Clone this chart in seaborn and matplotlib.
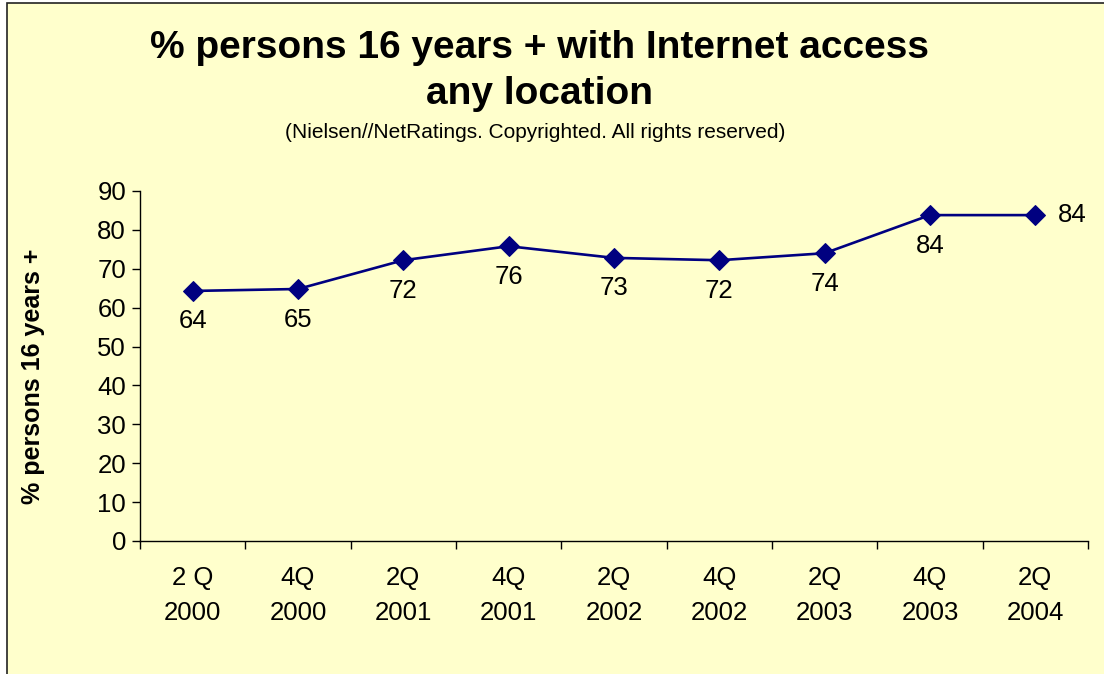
import numpy as np
import pandas as pd
import matplotlib
matplotlib.use("Agg")
import matplotlib.pyplot as plt
from matplotlib.patches import Rectangle
from matplotlib.ticker import FixedLocator
import seaborn as sns

quarters = ["2 Q\n2000", "4Q\n2000", "2Q\n2001", "4Q\n2001", "2Q\n2002",
            "4Q\n2002", "2Q\n2003", "4Q\n2003", "2Q\n2004"]
pct_online = [64.3, 64.8, 72.2, 75.8, 72.8, 72.2, 74.0, 83.8, 83.8]
y_ticks = [0, 10, 20, 30, 40, 50, 60, 70, 80, 90]

bg = "#FFFFCC"
navy = "#000080"

sns.set_style("white")
plt.rcParams["font.family"] = ["Liberation Sans", "DejaVu Sans"]
plt.rcParams["text.color"] = "black"
plt.rcParams["axes.labelcolor"] = "black"
plt.rcParams["xtick.color"] = "black"
plt.rcParams["ytick.color"] = "black"

df = pd.DataFrame({"quarter": quarters, "pct": pct_online})

fig = plt.figure(figsize=(11.04, 6.74), dpi=100, facecolor="white")
fig.add_artist(Rectangle((7 / 1104, -0.1), 1.2, 0.1 + 1 - 3 / 674,
                         transform=fig.transFigure, facecolor=bg,
                         edgecolor="#222222", linewidth=1.2, zorder=0))
ax = fig.add_axes([140 / 1104, 1 - 541 / 674, 948 / 1104, 350 / 674])
ax.patch.set_alpha(0)

sns.lineplot(data=df, x="quarter", y="pct", ax=ax, color=navy, linewidth=1.9,
             marker="D", markersize=10, markeredgecolor=navy, sort=False)

# data labels: below points, last one to the right
for i, v in enumerate(pct_online):
    if i == len(pct_online) - 1:
        ax.annotate(f"{v:.0f}", (i, v), xytext=(16, 0), textcoords="offset points",
                    ha="left", va="center", fontsize=18.5)
    else:
        ax.annotate(f"{v:.0f}", (i, v), xytext=(0, -22), textcoords="offset points",
                    ha="center", va="center", fontsize=18.5)

ax.set_xlim(-0.5, len(quarters) - 0.5)
ax.set_ylim(0, 90)
ax.set_yticks(y_ticks)
ax.tick_params(axis="y", labelsize=18.5, length=6, width=1, direction="out", left=True, pad=4)

ax.xaxis.set_major_locator(FixedLocator(np.arange(-0.5, len(quarters), 1.0)))
ax.set_xticklabels([])
ax.xaxis.set_minor_locator(FixedLocator(np.arange(len(quarters))))
ax.set_xticklabels(quarters, minor=True, fontsize=18.5, linespacing=1.6)
ax.tick_params(axis="x", which="major", length=6, width=1, direction="out", bottom=True)
ax.tick_params(axis="x", which="minor", length=0, pad=18)

for side in ["top", "right"]:
    ax.spines[side].set_visible(False)
for side in ["left", "bottom"]:
    ax.spines[side].set_color("black")
    ax.spines[side].set_linewidth(1)

ax.set_xlabel("")
ax.set_ylabel("% persons 16 years +", fontsize=18, fontweight="bold")
ax.yaxis.set_label_coords(-95 / 948, 0.47)

fig.text(539 / 1104, 1 - 48 / 674, "% persons 16 years + with Internet access",
         ha="center", va="center", fontsize=28, fontweight="bold")
fig.text(539 / 1104, 1 - 94 / 674, "any location",
         ha="center", va="center", fontsize=28, fontweight="bold")
fig.text(535 / 1104, 1 - 132 / 674, "(Nielsen//NetRatings. Copyrighted. All rights reserved)",
         ha="center", va="center", fontsize=15)

fig.savefig("out.png", dpi=100, facecolor=fig.get_facecolor())
